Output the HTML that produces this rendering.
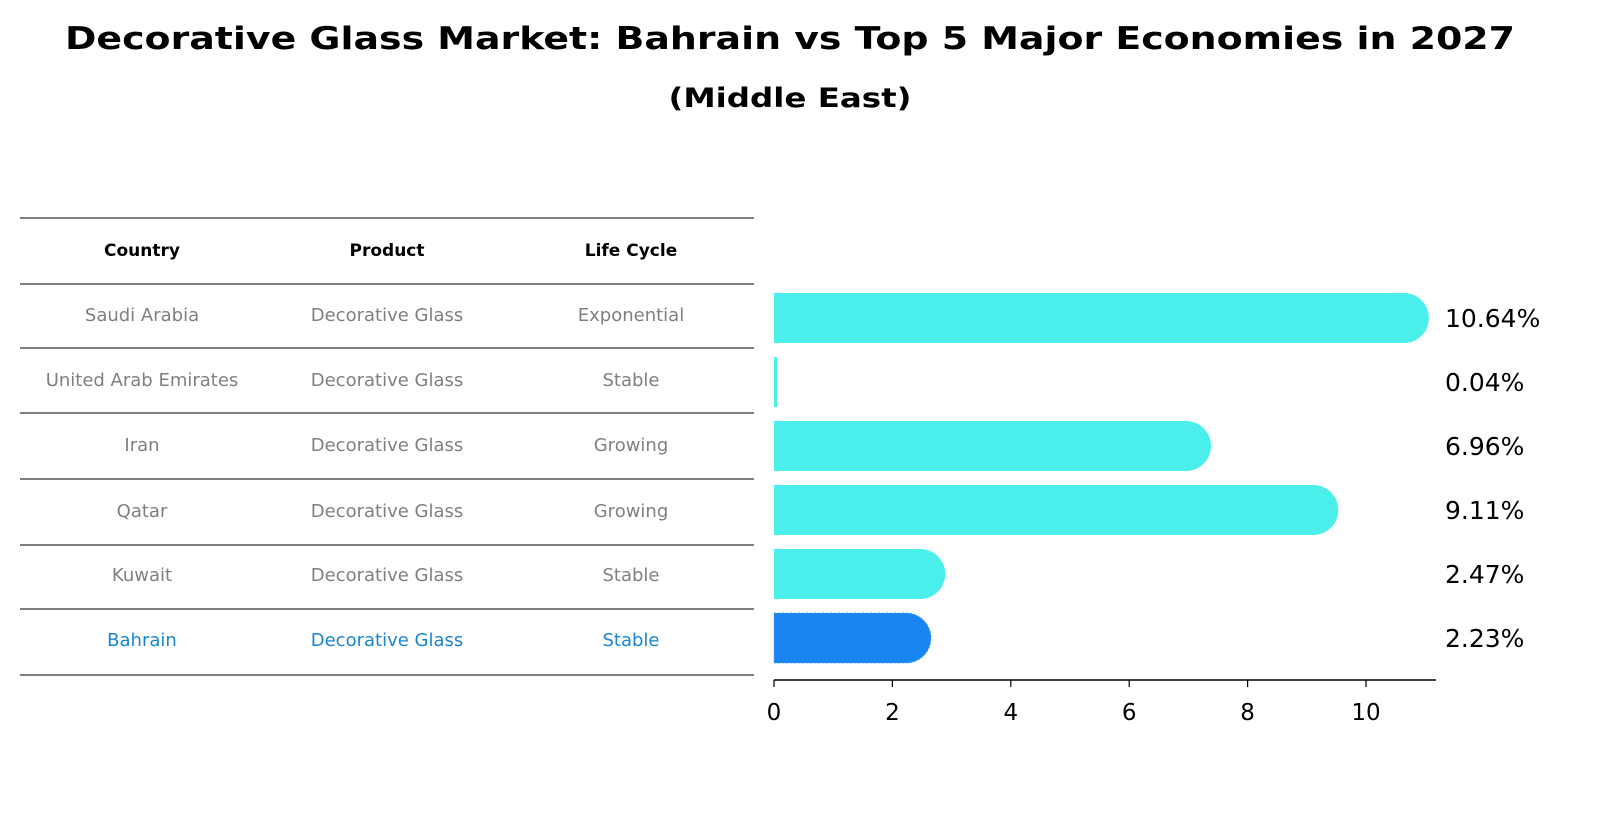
<!DOCTYPE html>
<html><head><meta charset="utf-8"><style>
body{margin:0;background:#fff;width:1604px;height:823px;overflow:hidden;font-family:"Liberation Sans","DejaVu Sans",sans-serif}
</style></head><body>
<svg width="1604" height="823" xmlns="http://www.w3.org/2000/svg" font-family="DejaVu Sans, Liberation Sans, sans-serif">
<text x="790" y="49" text-anchor="middle" font-size="31" font-weight="bold" textLength="1450" lengthAdjust="spacingAndGlyphs">Decorative Glass Market: Bahrain vs Top 5 Major Economies in 2027</text>
<text x="790" y="107" text-anchor="middle" font-size="27" font-weight="bold" textLength="243" lengthAdjust="spacingAndGlyphs">(Middle East)</text>
<g id="table"></g>
<g id="bars"></g>
<g id="axis"></g>
</svg>
<script>
const countries=["Saudi Arabia","United Arab Emirates","Iran","Qatar","Kuwait","Bahrain"];
const products=["Decorative Glass","Decorative Glass","Decorative Glass","Decorative Glass","Decorative Glass","Decorative Glass"];
const lifecycles=["Exponential","Stable","Growing","Growing","Stable","Stable"];
const values=[10.64,0.04,6.96,9.11,2.47,2.23];
const ticks=[0,2,4,6,8,10];
const NS="http://www.w3.org/2000/svg";
function mk(t,a,p,txt){const e=document.createElementNS(NS,t);for(const k in a)e.setAttribute(k,a[k]);if(txt!=null)e.textContent=txt;p.appendChild(e);return e;}
const x0=774,ppu=59.2;const xs=v=>x0+v*ppu;
const rowY=i=>318+i*64;
const tbl=document.getElementById('table');
const lines=[218,284,348,413,479,545,609,675];
lines.forEach((y,i)=>{const l=mk('line',{x1:20,x2:754,y1:y,y2:y,stroke:'#000','stroke-width':1},tbl);

});
const cx=[142,387,631];
["Country","Product","Life Cycle"].forEach((h,j)=>{const t=mk('text',{x:cx[j],y:256,'text-anchor':'middle','font-size':17,'font-weight':'bold'},tbl,h);

});
countries.forEach((c,i)=>{const y=[316,381,446,512,576,641][i]+5;const col=i===5?'#1a86d0':'#808080';
[c,products[i],lifecycles[i]].forEach((s,j)=>{const t=mk('text',{x:cx[j],y:y,'text-anchor':'middle','font-size':18,fill:col},tbl,s);

});});
const bars=document.getElementById('bars');
values.forEach((v,i)=>{const yc=rowY(i);const h=50;const w=xs(v)-x0;const col=i===5?'#1a85f0':'#4aeeea';
let r;
if(w<10){r=mk('rect',{x:x0,y:yc-h/2,width:Math.max(w,3),height:h,fill:col},bars);}
else{r=mk('path',{d:`M${x0},${yc-h/2} H${x0+w} A${h/2},${h/2} 0 0 1 ${x0+w},${yc+h/2} H${x0} Z`,fill:col},bars);
if(i===5){r.setAttribute('stroke','#4aa8ff');r.setAttribute('stroke-dasharray','2,2');}}


const t=mk('text',{x:1445,y:yc+9,'font-size':25},bars,v.toFixed(2)+'%');

});
const ax=document.getElementById('axis');
mk('line',{x1:x0,x2:1436,y1:680,y2:680,stroke:'#000','stroke-width':1.5},ax);
ticks.forEach(v=>{mk('line',{x1:xs(v),x2:xs(v),y1:680,y2:687,stroke:'#000','stroke-width':1.2},ax);
const t=mk('text',{x:xs(v),y:720,'text-anchor':'middle','font-size':23},ax,String(v));

});
</script>
</body></html>
